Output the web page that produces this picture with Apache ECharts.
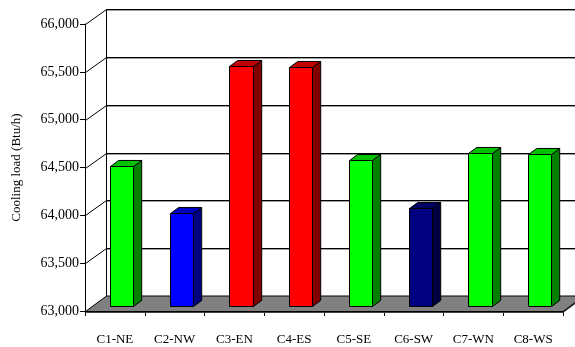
<!DOCTYPE html>
<html>
<head>
<meta charset="utf-8">
<script src="https://cdn.jsdelivr.net/npm/echarts@6/dist/echarts.min.js"></script>
<style>
  html, body { margin: 0; padding: 0; background: #fff; }
  #chart { width: 575px; height: 347px; }
</style>
</head>
<body>
<div id="chart"></div>
<script>
// Cooling load per configuration
const categories = ['C1-NE', 'C2-NW', 'C3-EN', 'C4-ES', 'C5-SE', 'C6-SW', 'C7-WN', 'C8-WS'];
const coolingLoad = [64460, 63970, 65510, 65495, 64525, 64030, 64595, 64585];
const barGroup = ['green', 'blue', 'red', 'red', 'green', 'navy', 'green', 'green'];
const yTicks = [63000, 63500, 64000, 64500, 65000, 65500, 66000];

// Face shades for each bar colour: front, side, top
const palette = {
  green: { front: '#00ff00', side: '#008000', top: '#00c000' },
  blue:  { front: '#0000ff', side: '#000080', top: '#0000c0' },
  red:   { front: '#ff0000', side: '#800000', top: '#c00000' },
  navy:  { front: '#000080', side: '#000040', top: '#000060' }
};

// Oblique projection of the depth axis
const DX = 21, DY = -15.5;
const BAR_FRONT = 0.32, BAR_BACK = 0.71, BAR_WIDTH = 0.39;
const FONT = '"Liberation Serif", "Times New Roman", serif';

function line(x1, y1, x2, y2, color, w) {
  return { type: 'line', shape: { x1, y1, x2, y2 }, style: { stroke: color, lineWidth: w || 1 } };
}

function renderWalls(params, api) {
  const bw = api.size([1, 0])[0];
  const n = categories.length;
  const min = yTicks[0], max = yTicks[yTicks.length - 1];
  const xL = Math.round(api.coord([0, min])[0] - bw / 2) + 0.5;
  const xR = api.coord([n - 1, min])[0] + bw / 2;
  const y0 = Math.round(api.coord([0, min])[1]) + 0.5;
  const yTop = Math.round(api.coord([0, max])[1]) + 0.5;
  const bx = xL + DX;
  const children = [];

  // back wall grid lines and their diagonals to the front axis
  yTicks.slice(1).forEach(function (v) {
    const y = Math.round(api.coord([0, v])[1]) + 0.5;
    const by = Math.round(y + DY);
    children.push(line(bx, by + 1.5, xR + DX + 10, by + 1.5, '#a0a0a0', 1));
    children.push(line(bx, by + 0.5, xR + DX + 10, by + 0.5, '#000', 1));
    children.push(line(xL, y, bx, by + 0.5, '#000', 1));
  });
  // back wall left edge
  children.push(line(bx, Math.round(yTop + DY) + 0.5, bx, Math.round(y0 + DY) + 0.5, '#000', 1));

  // floor
  children.push({
    type: 'polygon',
    shape: { points: [[xL, y0 + 1.5], [xR, y0 + 1.5], [xR + DX, y0 + DY + 1.5], [xL + DX, y0 + DY + 1.5]] },
    style: { fill: '#404040', stroke: null }
  });
  children.push({
    type: 'polygon',
    shape: { points: [[xL, y0], [xR, y0], [xR + DX, y0 + DY], [xL + DX, y0 + DY]] },
    style: { fill: '#808080', stroke: '#000', lineWidth: 1 }
  });
  return { type: 'group', children: children };
}

function renderBar(params, api) {
  const i = api.value(0), v = api.value(1);
  const bw = api.size([1, 0])[0];
  const base = api.coord([i, yTicks[0]]);
  const top = api.coord([i, v]);
  const w = bw * BAR_WIDTH;
  const cx = base[0] + BAR_FRONT * DX;
  const x0 = Math.round(cx - w / 2) + 0.5;
  const x1 = Math.round(cx + w / 2) + 0.5;
  const yb = Math.round(base[1] + BAR_FRONT * DY) + 0.5;
  const yt = Math.round(top[1] + BAR_FRONT * DY) + 0.5;
  const dx = (BAR_BACK - BAR_FRONT) * DX;
  const dy = (BAR_BACK - BAR_FRONT) * DY;
  const c = palette[barGroup[params.dataIndex]];
  const st = { stroke: '#000', lineWidth: 1, lineJoin: 'round' };
  return {
    type: 'group',
    children: [
      { type: 'polygon', shape: { points: [[x1, yb], [x1, yt], [x1 + dx, yt + dy], [x1 + dx, yb + dy]] },
        style: Object.assign({ fill: c.side }, st) },
      { type: 'polygon', shape: { points: [[x0, yt], [x1, yt], [x1 + dx, yt + dy], [x0 + dx, yt + dy]] },
        style: Object.assign({ fill: c.top }, st) },
      { type: 'rect', shape: { x: x0, y: yt, width: x1 - x0, height: yb - yt },
        style: Object.assign({ fill: c.front }, st) }
    ]
  };
}

const chart = echarts.init(document.getElementById('chart'), null, { renderer: 'canvas' });
chart.setOption({
  animation: false,
  backgroundColor: '#fff',
  grid: { left: 85, right: 12, top: 24, bottom: 36, containLabel: false },
  xAxis: {
    type: 'category',
    data: categories,
    boundaryGap: true,
    axisLine: { show: true, lineStyle: { color: '#000', width: 1 } },
    axisTick: { show: true, length: 5, alignWithLabel: false, lineStyle: { color: '#000' } },
    axisLabel: { color: '#000', fontFamily: FONT, fontSize: 13, margin: 22 },
    splitLine: { show: false }
  },
  yAxis: {
    type: 'value',
    min: yTicks[0],
    max: yTicks[yTicks.length - 1],
    interval: yTicks[1] - yTicks[0],
    name: 'Cooling load (Btu/h)',
    nameLocation: 'middle',
    nameRotate: 90,
    nameGap: 62,
    nameTextStyle: { color: '#000', fontFamily: FONT, fontSize: 13 },
    axisLine: { show: true, onZero: false, lineStyle: { color: '#000', width: 1 } },
    axisTick: { show: true, length: 5, lineStyle: { color: '#000' } },
    axisLabel: { color: '#000', fontFamily: FONT, fontSize: 14, margin: 6 },
    splitLine: { show: false }
  },
  series: [
    {
      type: 'custom',
      name: 'walls',
      clip: false,
      silent: true,
      z: 1,
      renderItem: renderWalls,
      data: [[0, yTicks[0]]]
    },
    {
      type: 'custom',
      name: 'Cooling load',
      clip: false,
      z: 2,
      renderItem: renderBar,
      data: coolingLoad.map(function (v, i) { return [i, v]; })
    }
  ]
});
</script>
</body>
</html>
